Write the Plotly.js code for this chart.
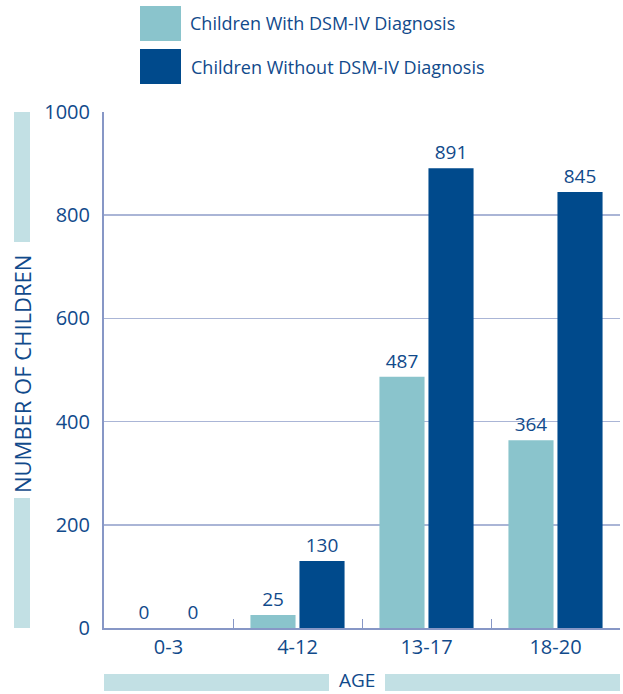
<!DOCTYPE html>
<html><head><meta charset="utf-8">
<script src="https://cdn.plot.ly/plotly-3.0.1.min.js"></script>
<style>html,body{margin:0;padding:0;background:#fff}#chart{width:623px;height:694px}</style>
</head><body><div id="chart"></div>
<script>
const categories = ['0-3', '4-12', '13-17', '18-20'];
const withDiagnosis = [0, 25, 487, 364];
const withoutDiagnosis = [0, 130, 891, 845];
const seriesNames = ['Children With DSM-IV Diagnosis', 'Children Without DSM-IV Diagnosis'];
const yTicks = [0, 200, 400, 600, 800, 1000];

const W = 623, H = 694;
const M = {l: 104, r: 3, t: 112, b: 66};
const PW = W - M.l - M.r, PH = H - M.t - M.b;
const px = x => (x - M.l) / PW;
const py = y => (H - M.b - y) / PH;

const TXT = '#114a8b';
const LIGHT = '#8ac4cc';
const DARK = '#004a8c';
const BAND = '#c2e0e4';
const AX = '#8797c6';
const FONT = 'Open Sans';

const traces = [
  {type: 'bar', name: seriesNames[0], x: categories, y: withDiagnosis, marker: {color: LIGHT},
   text: withDiagnosis.map(String), textposition: 'outside', cliponaxis: false,
   textfont: {color: TXT, size: 19, family: FONT}, hoverinfo: 'skip'},
  {type: 'bar', name: seriesNames[1], x: categories, y: withoutDiagnosis, marker: {color: DARK},
   text: withoutDiagnosis.map(String), textposition: 'outside', cliponaxis: false,
   textfont: {color: TXT, size: 19, family: FONT}, hoverinfo: 'skip'}
];

const shapes = [
  // legend swatches
  {type: 'rect', xref: 'paper', yref: 'paper', x0: px(140), x1: px(181), y0: py(41), y1: py(6), fillcolor: LIGHT, line: {width: 0}},
  {type: 'rect', xref: 'paper', yref: 'paper', x0: px(140), x1: px(181), y0: py(84), y1: py(49), fillcolor: DARK, line: {width: 0}},
  // y title bands
  {type: 'rect', xref: 'paper', yref: 'paper', x0: px(14), x1: px(30), y0: py(242), y1: py(112), fillcolor: BAND, line: {width: 0}},
  {type: 'rect', xref: 'paper', yref: 'paper', x0: px(14), x1: px(30), y0: py(628), y1: py(498), fillcolor: BAND, line: {width: 0}},
  // x title bands
  {type: 'rect', xref: 'paper', yref: 'paper', x0: px(104), x1: px(329), y0: py(691), y1: py(674), fillcolor: BAND, line: {width: 0}},
  {type: 'rect', xref: 'paper', yref: 'paper', x0: px(385), x1: px(620), y0: py(691), y1: py(674), fillcolor: BAND, line: {width: 0}}
];

const annotations = [
  {xref: 'paper', yref: 'paper', x: px(188), y: py(23), xanchor: 'left', yanchor: 'middle', showarrow: false,
   text: seriesNames[0], font: {color: TXT, size: 18, family: FONT}},
  {xref: 'paper', yref: 'paper', x: px(189), y: py(67), xanchor: 'left', yanchor: 'middle', showarrow: false,
   text: seriesNames[1], font: {color: TXT, size: 18, family: FONT}},
  {xref: 'paper', yref: 'paper', x: px(22), y: py(374), xanchor: 'center', yanchor: 'middle', showarrow: false,
   textangle: -90, text: 'NUMBER OF CHILDREN', font: {color: TXT, size: 22, family: FONT}},
  {xref: 'paper', yref: 'paper', x: px(357), y: py(680), xanchor: 'center', yanchor: 'middle', showarrow: false,
   borderpad: 0, text: 'AGE', font: {color: TXT, size: 19, family: FONT}}
];

const layout = {
  width: W, height: H,
  margin: {l: M.l, r: M.r, t: M.t, b: M.b, pad: 0},
  paper_bgcolor: '#fff', plot_bgcolor: '#fff',
  showlegend: false,
  barmode: 'group', bargap: 0.24, bargroupgap: 0.08,
  font: {family: FONT, color: TXT, size: 20},
  xaxis: {
    type: 'category', showgrid: false, showline: true, linecolor: AX, linewidth: 2,
    ticks: 'inside', tickson: 'boundaries', ticklen: 9, tickcolor: AX, tickwidth: 1,
    tickfont: {size: 20, color: TXT, family: FONT}, zeroline: false, fixedrange: true
  },
  yaxis: {
    range: [0, 1000], tickvals: yTicks, ticktext: yTicks.map(String),
    showgrid: true, gridcolor: '#aab5d6', gridwidth: 1.5,
    showline: true, linecolor: AX, linewidth: 2, ticks: '', ticklabelstandoff: 8,
    tickfont: {size: 20, color: TXT, family: FONT}, zeroline: false, fixedrange: true
  },
  shapes: shapes,
  annotations: annotations
};

Plotly.newPlot('chart', traces, layout, {displayModeBar: false, staticPlot: true});
</script>
</body></html>
